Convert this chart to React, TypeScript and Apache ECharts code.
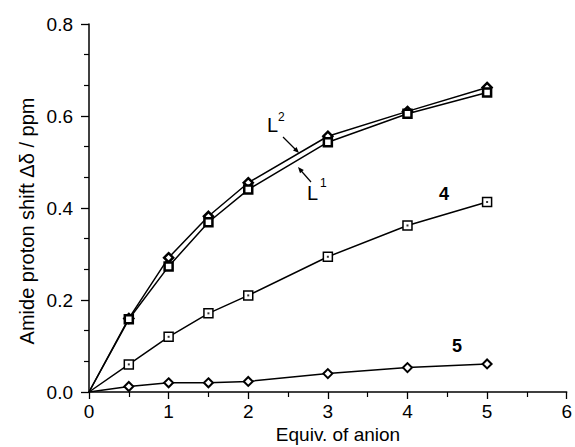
import React, { useEffect, useRef } from "react";
import * as echarts from "echarts";

const equiv = [0, 0.5, 1, 1.5, 2, 3, 4, 5];
const shiftL2 = [0, 0.16, 0.292, 0.382, 0.455, 0.556, 0.61, 0.662];
const shiftL1 = [0, 0.158, 0.273, 0.369, 0.44, 0.543, 0.605, 0.651];
const shift4 = [0, 0.06, 0.12, 0.171, 0.21, 0.294, 0.362, 0.413];
const shift5 = [0, 0.012, 0.02, 0.02, 0.023, 0.04, 0.053, 0.061];

const FONT = "Liberation Sans, Arial, Helvetica, sans-serif";

const pairs = (ys: number[]) => equiv.map((x, i) => [x, ys[i]]);
const markerData = (ys: number[]) =>
  equiv.map((x, i) => (x === 0 ? { value: [x, ys[i]], symbolSize: 0 } : [x, ys[i]]));

export default function App() {
  const ref = useRef<HTMLDivElement>(null);
  useEffect(() => {
    if (!ref.current) return;
    const chart = echarts.init(ref.current, undefined, { renderer: "svg" });
    const lineStyle = { color: "#000", width: 1.5 };
    chart.setOption({
      animation: false,
      backgroundColor: "#fff",
      grid: { left: 89, right: 2, top: 24, bottom: 55 },
      xAxis: {
        type: "value",
        min: 0,
        max: 6,
        interval: 1,
        axisLine: { show: true, lineStyle: { color: "#000", width: 1.5 } },
        axisTick: { show: true, length: 7, lineStyle: { color: "#000", width: 1.3 } },
        minorTick: { show: true, splitNumber: 2, length: 5, lineStyle: { color: "#000", width: 1.2 } },
        splitLine: { show: false },
        axisLabel: { color: "#000", fontSize: 19, fontFamily: FONT, margin: 10 },
      },
      yAxis: {
        type: "value",
        min: 0,
        max: 0.8,
        interval: 0.2,
        axisLine: { show: true, lineStyle: { color: "#000", width: 1.5 } },
        axisTick: { show: true, length: 8, lineStyle: { color: "#000", width: 1.3 } },
        minorTick: { show: true, splitNumber: 3, length: 5, lineStyle: { color: "#000", width: 1.2 } },
        splitLine: { show: false },
        axisLabel: {
          color: "#000",
          fontSize: 19,
          fontFamily: FONT,
          margin: 16,
          formatter: (v: number) => v.toFixed(1),
        },
      },
      graphic: [
        {
          type: "text",
          x: 27,
          y: 221,
          rotation: Math.PI / 2,
          style: {
            text: "Amide proton shift Δδ / ppm",
            fontSize: 20,
            fontFamily: FONT,
            fill: "#000",
            textAlign: "center",
            textVerticalAlign: "middle",
          },
        },
        {
          type: "text",
          x: 338,
          y: 434,
          style: {
            text: "Equiv. of anion",
            fontSize: 19,
            fontFamily: FONT,
            fill: "#000",
            textAlign: "center",
            textVerticalAlign: "middle",
          },
        },
        { type: "text", x: 267, y: 125, style: { text: "L", fontSize: 20, fontFamily: FONT, fill: "#000", textVerticalAlign: "middle" } },
        { type: "text", x: 278, y: 117, style: { text: "2", fontSize: 12, fontFamily: FONT, fill: "#000", textVerticalAlign: "middle" } },
        { type: "text", x: 307, y: 193, style: { text: "L", fontSize: 20, fontFamily: FONT, fill: "#000", textVerticalAlign: "middle" } },
        { type: "text", x: 320, y: 183, style: { text: "1", fontSize: 12, fontFamily: FONT, fill: "#000", textVerticalAlign: "middle" } },
        { type: "line", shape: { x1: 283, y1: 137, x2: 296, y2: 150 }, style: { stroke: "#000", lineWidth: 1.2 } },
        { type: "polygon", shape: { points: [[299, 153], [293, 150.6], [296.6, 147]] }, style: { fill: "#000" } },
        { type: "line", shape: { x1: 311, y1: 182, x2: 300, y2: 169.5 }, style: { stroke: "#000", lineWidth: 1.2 } },
        { type: "polygon", shape: { points: [[298, 167], [303.8, 169.9], [300, 173.2]] }, style: { fill: "#000" } },
        {
          type: "text",
          x: 444,
          y: 194,
          style: { text: "4", fontSize: 18, fontWeight: "bold", fontFamily: FONT, fill: "#000", textAlign: "center", textVerticalAlign: "middle" },
        },
        {
          type: "text",
          x: 457,
          y: 346,
          style: { text: "5", fontSize: 18, fontWeight: "bold", fontFamily: FONT, fill: "#000", textAlign: "center", textVerticalAlign: "middle" },
        },
      ],
      series: [
        {
          name: "L2",
          type: "line",
          data: markerData(shiftL2),
          symbol: "diamond",
          symbolSize: 9,
          showAllSymbol: true,
          lineStyle,
          itemStyle: { color: "#fff", borderColor: "#000", borderWidth: 2.5 },
          z: 3,
        },
        {
          name: "L1",
          type: "line",
          data: markerData(shiftL1),
          symbol: "rect",
          symbolSize: 8,
          showAllSymbol: true,
          lineStyle,
          itemStyle: { color: "#fff", borderColor: "#000", borderWidth: 2.5 },
          z: 3,
        },
        {
          name: "4",
          type: "line",
          data: markerData(shift4),
          symbol: "rect",
          symbolSize: 9,
          showAllSymbol: true,
          lineStyle,
          itemStyle: { color: "#fff", borderColor: "#000", borderWidth: 1.5 },
          z: 3,
        },
        {
          name: "4dots",
          type: "scatter",
          data: pairs(shift4).slice(1),
          symbol: "rect",
          symbolSize: 2,
          itemStyle: { color: "#000" },
          z: 4,
        },
        {
          name: "5",
          type: "line",
          data: markerData(shift5),
          symbol: "diamond",
          symbolSize: 9,
          showAllSymbol: true,
          lineStyle,
          itemStyle: { color: "#fff", borderColor: "#000", borderWidth: 2 },
          z: 3,
        },
      ],
    });
    return () => chart.dispose();
  }, []);
  return <div ref={ref} style={{ width: 575, height: 447, position: "absolute", left: 0, top: 0 }} />;
}
